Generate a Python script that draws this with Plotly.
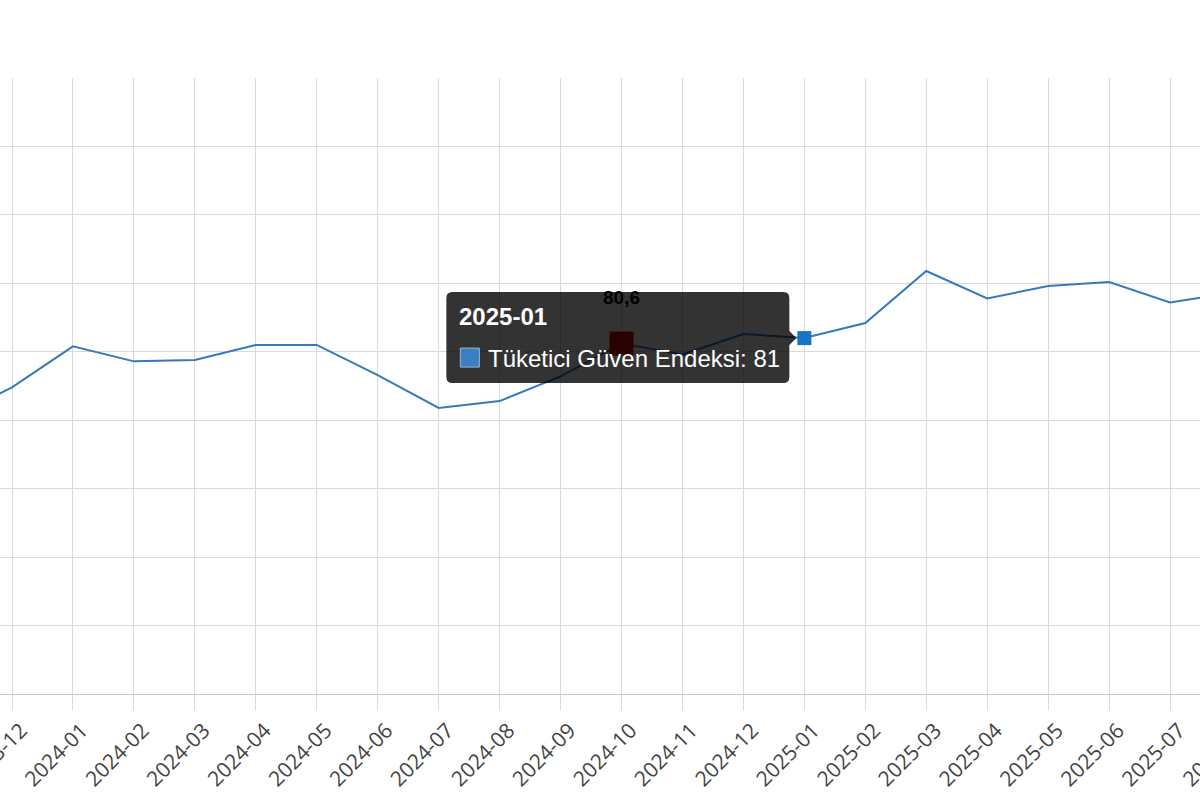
import plotly.graph_objects as go

# ---- data ----
months = ["2023-11", "2023-12", "2024-01", "2024-02", "2024-03", "2024-04", "2024-05",
          "2024-06", "2024-07", "2024-08", "2024-09", "2024-10", "2024-11", "2024-12",
          "2025-01", "2025-02", "2025-03", "2025-04", "2025-05", "2025-06", "2025-07",
          "2025-08"]
values = [75.2, 77.4, 80.4, 79.3, 79.4, 80.5, 80.5,
          78.3, 75.9, 76.4, 78.2, 80.6, 79.8, 81.3,
          81.0, 82.1, 85.9, 83.9, 84.8, 85.1, 83.6,
          84.3]
series_name = "Tüketici Güven Endeksi"
highlight_month = "2024-10"
hover_month = "2025-01"

val = dict(zip(months, values))
hl_val = val[highlight_month]
hv_val = val[hover_month]

LINE = "#3679bd"
GRID = "#dadada"

fig = go.Figure()
fig.add_trace(go.Scatter(
    x=months, y=values, mode="lines", name=series_name,
    line=dict(color=LINE, width=2), hoverinfo="skip", showlegend=False))
fig.add_trace(go.Scatter(
    x=[highlight_month], y=[hl_val], mode="markers",
    marker=dict(symbol="square", size=24, color="rgb(210,0,10)", line=dict(width=0)),
    hoverinfo="skip", showlegend=False))
fig.add_trace(go.Scatter(
    x=[hover_month], y=[hv_val], mode="markers",
    marker=dict(symbol="square", size=14, color="#1a74c6", line=dict(width=0)),
    hoverinfo="skip", showlegend=False))

# tooltip box (pixel offsets from the hovered point)
tip_path = ("M -352,46 L -21,46 Q -15,46 -15,40 L -15,7 L -8,0 L -15,-7 L -15,-39 "
            "Q -15,-45 -21,-45 L -352,-45 Q -358,-45 -358,-39 L -358,40 Q -358,46 -352,46 Z")
fig.add_shape(type="path", path=tip_path, xref="x", yref="y",
              xsizemode="pixel", ysizemode="pixel",
              xanchor=hover_month, yanchor=hv_val,
              fillcolor="rgba(0,0,0,0.8)", line=dict(width=0), layer="above")
fig.add_shape(type="rect", xref="x", yref="y",
              xsizemode="pixel", ysizemode="pixel",
              xanchor=hover_month, yanchor=hv_val,
              x0=-344, x1=-325, y0=-10, y1=-29,
              fillcolor="#3a80c0", line=dict(width=1, color="#9bb6d2"), layer="above")

fig.add_annotation(x=hover_month, y=hv_val, xref="x", yref="y",
                   text=f"<b>{hover_month}</b>", showarrow=False,
                   xanchor="left", yanchor="middle", xshift=-347, yshift=22,
                   font=dict(family="Liberation Sans, Arial", size=24, color="white"))
fig.add_annotation(x=hover_month, y=hv_val, xref="x", yref="y",
                   text=f"{series_name}: {hv_val:g}", showarrow=False,
                   xanchor="left", yanchor="middle", xshift=-318, yshift=-20,
                   font=dict(family="Liberation Sans, Arial", size=24, color="white"))
fig.add_annotation(x=highlight_month, y=hl_val, xref="x", yref="y",
                   text="<b>" + f"{hl_val:.1f}".replace(".", ",") + "</b>", showarrow=False,
                   xanchor="center", yanchor="middle", yshift=46,
                   font=dict(family="Liberation Sans, Arial", size=19, color="black"))

step = 60.95
left = 1 - 12 / step
W = 1262
fig.update_layout(
    width=W, height=800,
    margin=dict(l=0, r=0, t=78, b=106, autoexpand=False),
    paper_bgcolor="white", plot_bgcolor="white",
    hovermode=False,
    xaxis=dict(type="category", range=[left, left + W / step],
               showgrid=True, gridcolor=GRID, gridwidth=1,
               ticks="outside", ticklen=15, tickcolor=GRID, tickwidth=1,
               showline=True, linecolor="#c8c8c8", linewidth=1,
               tickangle=-45, automargin=False,
               ticklabelstandoff=0, ticklabelshift=9,
               tickfont=dict(family="Open Sans", size=21, color="#444")),
    yaxis=dict(range=[55, 100], dtick=5, showgrid=True, gridcolor=GRID, gridwidth=1,
               zeroline=False, showline=False, showticklabels=False, ticks="",
               automargin=False),
)

fig.write_html("out.html",
               config={"displayModeBar": False, "staticPlot": True},
               post_script="document.body.style.margin='0';"
                           "document.body.style.overflow='hidden';"
                           "document.documentElement.style.overflow='hidden';")
